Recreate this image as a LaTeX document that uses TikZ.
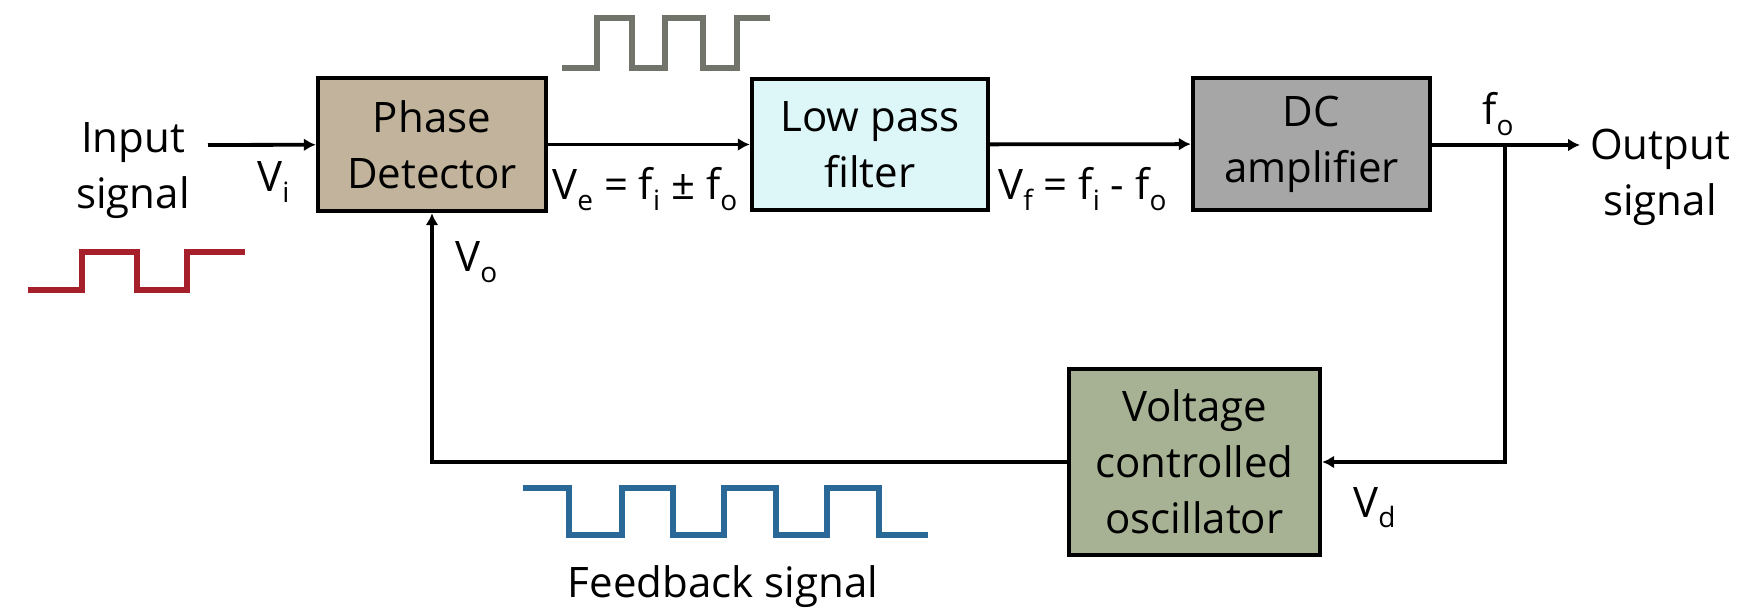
\documentclass[tikz,border=0pt]{standalone}
\usepackage{fontspec}
\setmainfont{Open Sans}
\usetikzlibrary{arrows.meta}

\definecolor{pdtan}{RGB}{194,180,156}
\definecolor{lpfcyan}{RGB}{221,246,248}
\definecolor{dcgray}{RGB}{166,166,166}
\definecolor{vcogreen}{RGB}{167,178,148}
\definecolor{wavered}{RGB}{165,32,42}
\definecolor{wavegray}{RGB}{112,116,106}
\definecolor{waveblue}{RGB}{42,104,152}

\newcommand\lowsub[1]{\raisebox{-5.5pt}{\fontsize{14}{14}\selectfont #1}}

\begin{document}
\begin{tikzpicture}[x=0.5pt, y=-0.5pt,
  block/.style={rectangle, draw, line width=2.2pt, align=center, inner sep=0pt,
               font=\fontsize{21}{28}\selectfont},
  lbl/.style={align=center, inner sep=0pt, font=\fontsize{21}{28}\selectfont},
  sig/.style={anchor=base west, inner sep=0pt, font=\fontsize{21}{28}\selectfont},
  arrow/.style={-{Latex[length=6pt,width=6.5pt]}, line width=1.9pt},
  wave/.style={line width=2.8pt}
]
  \useasboundingbox (0,0) rectangle (1741,614);

  % blocks
  \node[block, fill=pdtan, minimum width=114pt, minimum height=66.5pt] (pd) at (432,144.5) {Phase\\Detector};
  \node[block, fill=lpfcyan, minimum width=118pt, minimum height=65.5pt] (lpf) at (870,144.5) {Low pass\\filter};
  \node[block, fill=dcgray, minimum width=118.5pt, minimum height=66pt] (dc) at (1311.5,144) {DC\\amplifier};
  \node[block, fill=vcogreen, minimum width=125.5pt, minimum height=93pt] (vco) at (1194.5,462) {Voltage\\controlled\\oscillator};

  % texts
  \node[lbl] (inp) at (133,171) {Input\\signal};
  \node[lbl] (outp) at (1660,177) {Output\\signal};
  \node[lbl] (fbk) at (723,587) {Feedback signal};
  \node[sig] (vi) at (257,192) {V\lowsub{i}};
  \node[sig] (vo) at (455,272) {V\lowsub{o}};
  \node[sig] (ve) at (552,200) {V\lowsub{e} = f\lowsub{i} ± f\lowsub{o}};
  \node[sig] (vf) at (998,200) {V\lowsub{f} = f\lowsub{i} - f\lowsub{o}};
  \node[sig] (fo) at (1482,125) {f\lowsub{o}};
  \node[sig] (vd) at (1353,517) {V\lowsub{d}};

  \coordinate (instart) at (208,145);
  \coordinate (junc) at (1505,145);
  \coordinate (outtip) at (1580,145);

  \draw[arrow] (instart) -- (pd);
  \draw[arrow] (pd) -- (lpf);
  \draw[arrow] (lpf) -- (dc);
  \draw[arrow] (dc.east |- junc) -- (outtip);
  \draw[arrow] (junc) |- (vco);
  \draw[arrow] (vco) -| (pd);

  % square waves
  \draw[wave, wavered] (28,290) -- (82,290) -- (82,252) -- (137,252) -- (137,290)
    -- (187,290) -- (187,252) -- (245,252);
  \draw[wave, wavegray, line width=3pt] (562,68) -- (597,68) -- (597,18) -- (632,18) -- (632,68)
    -- (665,68) -- (665,18) -- (703,18) -- (703,68) -- (737,68) -- (737,18) -- (770,18);
  \draw[wave, waveblue] (523,488) -- (569,488) -- (569,535) -- (622,535) -- (622,488)
    -- (673,488) -- (673,535) -- (724,535) -- (724,488) -- (776,488) -- (776,535)
    -- (827,535) -- (827,488) -- (879,488) -- (879,535) -- (928,535);
\end{tikzpicture}
\end{document}
